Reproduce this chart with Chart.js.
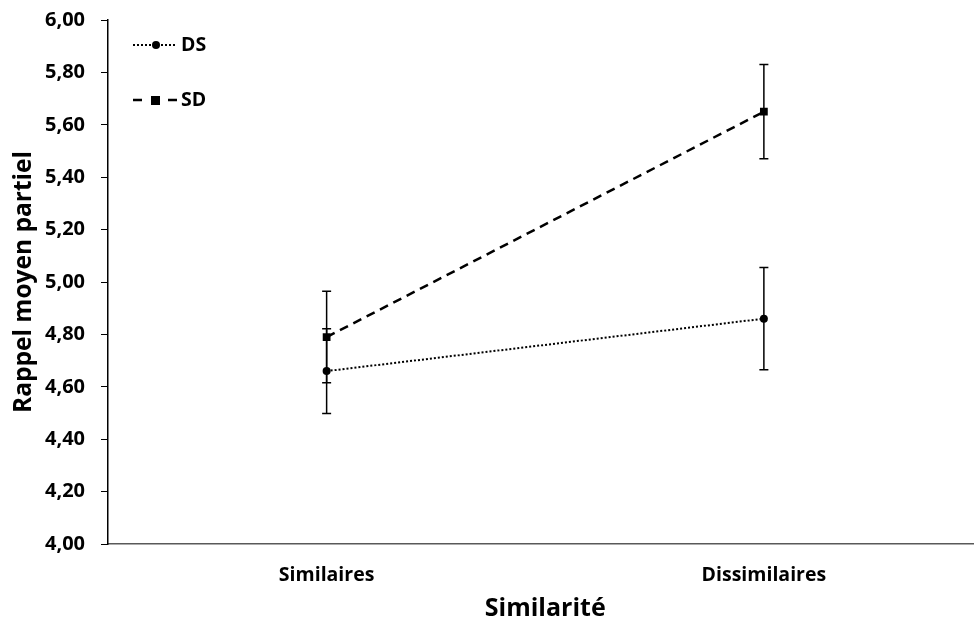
<!DOCTYPE html>
<html>
<head>
<meta charset="utf-8">
<script src="https://cdn.jsdelivr.net/npm/chart.js@4/dist/chart.umd.min.js"></script>
<style>
  html, body { margin: 0; padding: 0; background: #fff; overflow: hidden; }
  #wrap { width: 988px; height: 623px; }
</style>
</head>
<body>
<div id="wrap"><canvas id="chart" width="988" height="623"></canvas></div>
<script>
var categories = ['Similaires', 'Dissimilaires'];
var dsMeans = [4.66, 4.86];
var dsErr = [0.162, 0.195];
var sdMeans = [4.79, 5.65];
var sdErr = [0.175, 0.18];
var yTicks = [4.0, 4.2, 4.4, 4.6, 4.8, 5.0, 5.2, 5.4, 5.6, 5.8, 6.0];

var FONT = '"Open Sans"';

// error bars drawn through the scales, under the lines
var errorBars = {
  id: 'errorBars',
  beforeDatasetsDraw: function(chart){
    var ctx = chart.ctx;
    var yScale = chart.scales.y;
    var errs = [dsErr, sdErr];
    ctx.save();
    ctx.strokeStyle = '#000';
    ctx.lineWidth = 1.5;
    chart.data.datasets.forEach(function(ds, di){
      var meta = chart.getDatasetMeta(di);
      meta.data.forEach(function(pt, i){
        var v = ds.data[i];
        var top = yScale.getPixelForValue(v + errs[di][i]);
        var bot = yScale.getPixelForValue(v - errs[di][i]);
        ctx.beginPath();
        ctx.moveTo(pt.x, top); ctx.lineTo(pt.x, bot);
        ctx.moveTo(pt.x - 4.5, top); ctx.lineTo(pt.x + 4.5, top);
        ctx.moveTo(pt.x - 4.5, bot); ctx.lineTo(pt.x + 4.5, bot);
        ctx.stroke();
      });
    });
    ctx.restore();
  }
};

// legend drawn like the original (line sample with marker)
var sampleLegend = {
  id: 'sampleLegend',
  afterDraw: function(chart){
    var ctx = chart.ctx;
    ctx.save();
    ctx.strokeStyle = '#000';
    ctx.fillStyle = '#000';
    // DS
    ctx.lineWidth = 2;
    ctx.setLineDash([2, 2]);
    ctx.beginPath(); ctx.moveTo(133, 45); ctx.lineTo(175, 45); ctx.stroke();
    ctx.setLineDash([]);
    ctx.beginPath(); ctx.arc(156, 45, 4, 0, Math.PI * 2); ctx.fill();
    // SD
    ctx.lineWidth = 2.5;
    ctx.beginPath(); ctx.moveTo(133, 100); ctx.lineTo(142, 100); ctx.moveTo(168, 100); ctx.lineTo(177, 100); ctx.stroke();
    ctx.fillRect(151, 96, 9, 9);
    ctx.font = 'bold 19.5px ' + FONT;
    ctx.textBaseline = 'middle';
    ctx.fillText('DS', 181, 45);
    ctx.fillText('SD', 181, 100);
    ctx.restore();
  }
};

new Chart(document.getElementById('chart'), {
  type: 'line',
  data: {
    labels: categories,
    datasets: [
      {
        label: 'DS',
        data: dsMeans,
        borderColor: '#000',
        backgroundColor: '#000',
        borderWidth: 2,
        borderDash: [2, 2],
        pointStyle: 'circle',
        pointRadius: 4,
        pointBorderWidth: 0,
        fill: false
      },
      {
        label: 'SD',
        data: sdMeans,
        borderColor: '#000',
        backgroundColor: '#000',
        borderWidth: 2.5,
        borderDash: [9, 6],
        pointStyle: 'rect',
        pointRadius: 5.5,
        pointBorderWidth: 0,
        fill: false
      }
    ]
  },
  options: {
    responsive: false,
    animation: false,
    layout: { padding: { top: 20, left: 0, right: 0, bottom: 0 } },
    plugins: {
      legend: { display: false },
      tooltip: { enabled: false }
    },
    scales: {
      x: {
        offset: true,
        afterFit: function(scale){ scale.height = 79; },
        grid: { display: true, drawOnChartArea: false, drawTicks: false },
        border: { display: true, color: '#595959', width: 1.5 },
        ticks: { color: '#000', padding: 20, font: { family: FONT, size: 19.5, weight: 'bold' } },
        title: {
          display: true,
          text: 'Similarité',
          color: '#000',
          padding: { top: 0, bottom: -1 },
          font: { family: FONT, size: 25, weight: 'bold' }
        }
      },
      y: {
        min: 4,
        max: 6,
        afterFit: function(scale){
          scale.width = 108;
          scale.paddingTop = 0;
          scale.paddingBottom = 0;
        },
        afterBuildTicks: function(scale){
          scale.ticks = yTicks.map(function(v){ return { value: v }; });
        },
        grid: { drawOnChartArea: false, drawTicks: true, tickLength: 7, color: '#000' },
        border: { display: true, color: '#000', width: 1.5 },
        ticks: {
          color: '#000',
          padding: 16,
          font: { family: FONT, size: 20, weight: 'bold' },
          callback: function(v){ return v.toFixed(2).replace('.', ','); }
        },
        title: {
          display: true,
          text: 'Rappel moyen partiel',
          color: '#000',
          padding: { top: 9, bottom: 0 },
          font: { family: FONT, size: 24.5, weight: 'bold' }
        }
      }
    }
  },
  plugins: [errorBars, sampleLegend]
});
</script>
</body>
</html>
